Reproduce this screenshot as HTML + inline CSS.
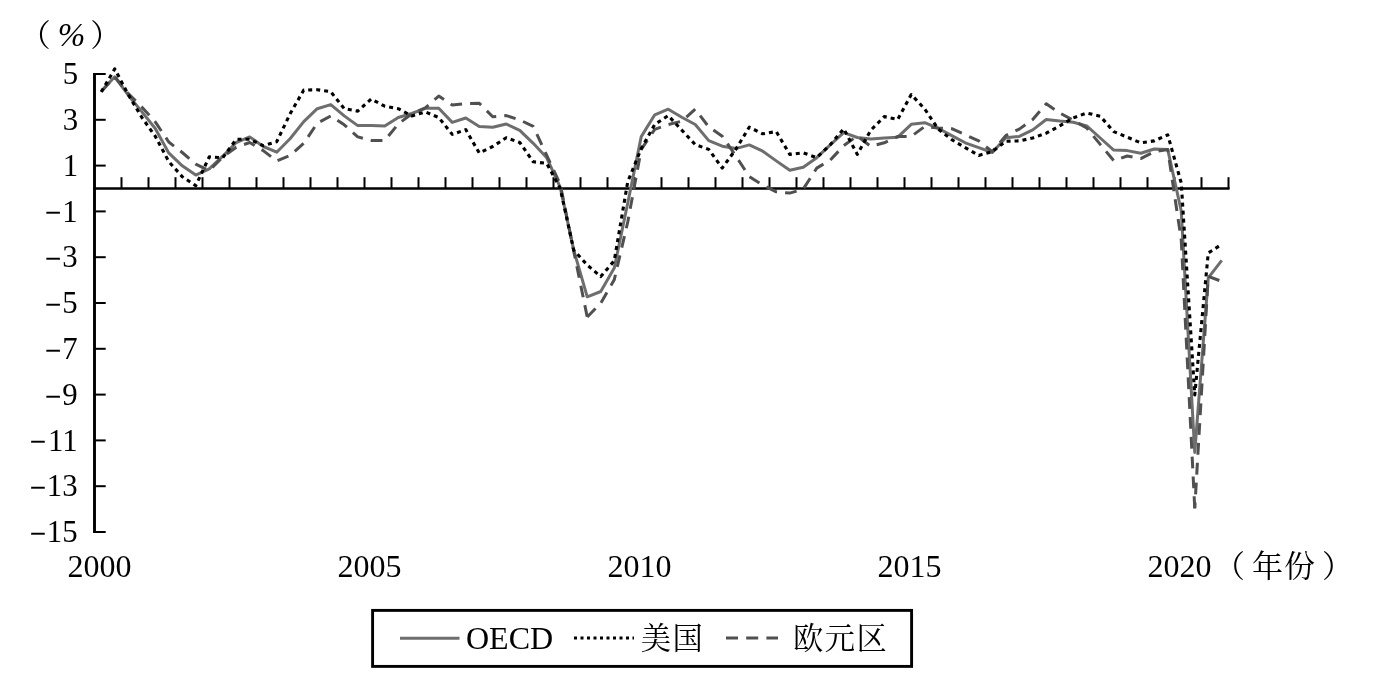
<!DOCTYPE html>
<html lang="zh"><head><meta charset="utf-8"><title>chart</title>
<style>
html,body{margin:0;padding:0;background:#fff;}
body{width:1376px;height:683px;overflow:hidden;}
svg{display:block;}
text{font-family:"Liberation Serif","Noto Serif CJK SC",serif;font-size:32px;fill:#000;}
.cjk{font-family:"Liberation Serif","Noto Serif CJK SC",serif;font-size:31px;}
</style></head><body>
<svg width="1376" height="683" viewBox="0 0 1376 683">
<rect width="1376" height="683" fill="#fff"/>
<g stroke="#000" stroke-width="2" fill="none">
<line x1="94.5" y1="73.0" x2="94.5" y2="533.0" stroke-width="2.9"/>
<line x1="93.1" y1="188.5" x2="1229.6" y2="188.5" stroke-width="2.7"/>
<line x1="121.5" y1="188.5" x2="121.5" y2="177.2"/><line x1="148.5" y1="188.5" x2="148.5" y2="177.2"/><line x1="175.5" y1="188.5" x2="175.5" y2="177.2"/><line x1="202.5" y1="188.5" x2="202.5" y2="177.2"/><line x1="229.5" y1="188.5" x2="229.5" y2="177.2"/><line x1="256.5" y1="188.5" x2="256.5" y2="177.2"/><line x1="283.5" y1="188.5" x2="283.5" y2="177.2"/><line x1="310.5" y1="188.5" x2="310.5" y2="177.2"/><line x1="337.5" y1="188.5" x2="337.5" y2="177.2"/><line x1="364.5" y1="188.5" x2="364.5" y2="177.2"/><line x1="391.5" y1="188.5" x2="391.5" y2="177.2"/><line x1="418.5" y1="188.5" x2="418.5" y2="177.2"/><line x1="445.5" y1="188.5" x2="445.5" y2="177.2"/><line x1="472.5" y1="188.5" x2="472.5" y2="177.2"/><line x1="499.5" y1="188.5" x2="499.5" y2="177.2"/><line x1="526.5" y1="188.5" x2="526.5" y2="177.2"/><line x1="553.5" y1="188.5" x2="553.5" y2="177.2"/><line x1="580.5" y1="188.5" x2="580.5" y2="177.2"/><line x1="607.5" y1="188.5" x2="607.5" y2="177.2"/><line x1="634.5" y1="188.5" x2="634.5" y2="177.2"/><line x1="661.5" y1="188.5" x2="661.5" y2="177.2"/><line x1="688.5" y1="188.5" x2="688.5" y2="177.2"/><line x1="715.5" y1="188.5" x2="715.5" y2="177.2"/><line x1="742.5" y1="188.5" x2="742.5" y2="177.2"/><line x1="769.5" y1="188.5" x2="769.5" y2="177.2"/><line x1="796.5" y1="188.5" x2="796.5" y2="177.2"/><line x1="823.5" y1="188.5" x2="823.5" y2="177.2"/><line x1="850.5" y1="188.5" x2="850.5" y2="177.2"/><line x1="877.5" y1="188.5" x2="877.5" y2="177.2"/><line x1="904.5" y1="188.5" x2="904.5" y2="177.2"/><line x1="931.5" y1="188.5" x2="931.5" y2="177.2"/><line x1="958.5" y1="188.5" x2="958.5" y2="177.2"/><line x1="985.5" y1="188.5" x2="985.5" y2="177.2"/><line x1="1012.5" y1="188.5" x2="1012.5" y2="177.2"/><line x1="1039.5" y1="188.5" x2="1039.5" y2="177.2"/><line x1="1066.5" y1="188.5" x2="1066.5" y2="177.2"/><line x1="1093.5" y1="188.5" x2="1093.5" y2="177.2"/><line x1="1120.5" y1="188.5" x2="1120.5" y2="177.2"/><line x1="1147.5" y1="188.5" x2="1147.5" y2="177.2"/><line x1="1174.5" y1="188.5" x2="1174.5" y2="177.2"/><line x1="1201.5" y1="188.5" x2="1201.5" y2="177.2"/><line x1="1228.5" y1="188.5" x2="1228.5" y2="177.2"/>
<line x1="94.5" y1="74.0" x2="105.7" y2="74.0"/><line x1="94.5" y1="119.8" x2="105.7" y2="119.8"/><line x1="94.5" y1="165.6" x2="105.7" y2="165.6"/><line x1="94.5" y1="211.4" x2="105.7" y2="211.4"/><line x1="94.5" y1="257.2" x2="105.7" y2="257.2"/><line x1="94.5" y1="303.0" x2="105.7" y2="303.0"/><line x1="94.5" y1="348.8" x2="105.7" y2="348.8"/><line x1="94.5" y1="394.6" x2="105.7" y2="394.6"/><line x1="94.5" y1="440.4" x2="105.7" y2="440.4"/><line x1="94.5" y1="486.2" x2="105.7" y2="486.2"/><line x1="94.5" y1="532.0" x2="105.7" y2="532.0"/>
</g>
<g fill="none" stroke-linejoin="round">
<polyline points="101.25,91.2 114.75,76.8 128.25,95.2 141.75,111.6 155.25,128.5 168.75,152.9 182.25,165.8 195.75,175.1 209.25,168.8 222.75,156.2 236.25,142.5 249.75,136.9 263.25,146.5 276.75,152.2 290.25,138.5 303.75,121.6 317.25,108.7 330.75,104.6 344.25,115.9 357.75,125.6 371.25,125.6 384.75,126.1 398.25,117.5 411.75,113.5 425.25,108.3 438.75,108.3 452.25,122.4 465.75,118.0 479.25,126.4 492.75,127.2 506.25,124.0 519.75,130.4 533.25,143.3 546.75,157.8 560.25,187.4 573.75,250.1 587.25,296.8 600.75,291.5 614.25,268.1 627.75,203.0 641.25,136.6 654.75,114.8 668.25,109.2 681.75,117.2 695.25,124.5 708.75,140.6 722.25,146.2 735.75,148.6 749.25,144.9 762.75,151.2 776.25,160.9 789.75,170.2 803.25,167.3 816.75,157.7 830.25,144.8 843.75,132.7 857.25,137.5 870.75,139.1 884.25,138.0 897.75,137.2 911.25,124.3 924.75,122.7 938.25,128.3 951.75,135.6 965.25,142.8 978.75,147.7 992.25,152.5 1005.75,137.7 1019.25,136.4 1032.75,129.9 1046.25,119.5 1059.75,121.1 1073.25,122.2 1086.75,125.9 1100.25,138.0 1113.75,150.1 1127.25,150.6 1140.75,153.3 1154.25,149.0 1167.75,149.6 1181.25,211.0 1194.75,452.4 1208.25,277.9 1221.75,260.4" stroke="#6e6e6e" stroke-width="3"/>
<g stroke="#505050" stroke-width="3" stroke-dasharray="11.8 8.05">
<polyline points="101.25,91.6 114.75,76.8 128.25,93.6 141.75,106.9 155.25,121.9 168.75,142.0 182.25,152.5 195.75,164.2 209.25,170.7 222.75,157.0 236.25,147.3 249.75,142.5 263.25,150.6 276.75,161.0 290.25,155.4 303.75,143.3 317.25,123.2 330.75,115.9 344.25,124.8 357.75,136.9 371.25,140.4 384.75,140.4 398.25,124.0 411.75,113.8 425.25,107.9 438.75,96.1 452.25,105.1 465.75,103.5 479.25,103.3 492.75,116.7 506.25,115.6 519.75,119.9 533.25,126.4 546.75,155.4 560.25,184.2 573.75,251.2 587.25,317.0" stroke-dashoffset="-0.5"/>
<polyline points="587.25,317.0 600.75,303.2 614.25,279.8 627.75,222.0 641.25,149.4 654.75,129.3 668.25,124.5 681.75,121.2 695.25,109.2 708.75,126.9 722.25,136.2 735.75,155.9 749.25,176.5 762.75,185.1 776.25,191.8 789.75,193.1 803.25,189.1 816.75,168.1 830.25,160.1 843.75,145.6 857.25,135.9 870.75,146.4 884.25,142.8 897.75,136.4 911.25,136.4 924.75,126.4 938.25,128.0 951.75,128.7 965.25,134.8 978.75,140.9 992.25,151.7 1005.75,135.6 1019.25,129.1 1032.75,119.5 1046.25,103.8 1059.75,113.0 1073.25,120.3 1086.75,128.0 1100.25,144.4 1113.75,160.6 1127.25,156.0 1140.75,158.6 1154.25,151.7 1167.75,149.6 1181.25,240.0 1194.75,508.5" stroke-dashoffset="0"/>
<polyline points="1194.75,508.5 1208.25,276.4 1221.75,281.4" stroke-dashoffset="5.7"/>
</g>
<polyline points="101.25,92.0 114.75,68.9 128.25,94.6 141.75,117.3 155.25,136.2 168.75,161.5 182.25,176.7 195.75,185.6 209.25,156.9 222.75,157.8 236.25,139.3 249.75,139.3 263.25,145.7 276.75,141.7 290.25,113.5 303.75,90.1 317.25,89.7 330.75,91.7 344.25,108.7 357.75,111.1 371.25,99.0 384.75,106.2 398.25,108.7 411.75,115.9 425.25,111.9 438.75,117.5 452.25,134.4 465.75,129.6 479.25,153.0 492.75,146.5 506.25,137.7 519.75,142.5 533.25,161.8 546.75,163.4 560.25,188.5 573.75,250.1 587.25,265.0 600.75,276.6 614.25,260.7 627.75,181.7 641.25,148.6 654.75,124.5 668.25,115.6 681.75,130.1 695.25,144.6 708.75,149.4 722.25,168.0 735.75,149.4 749.25,127.2 762.75,133.8 776.25,131.6 789.75,154.4 803.25,152.8 816.75,157.7 830.25,144.8 843.75,128.7 857.25,154.4 870.75,130.3 884.25,116.6 897.75,119.5 911.25,94.5 924.75,109.0 938.25,129.1 951.75,139.6 965.25,147.7 978.75,155.4 992.25,151.7 1005.75,141.2 1019.25,140.9 1032.75,138.0 1046.25,133.2 1059.75,125.9 1073.25,117.9 1086.75,113.0 1100.25,116.2 1113.75,131.6 1127.25,137.2 1140.75,142.8 1154.25,140.9 1167.75,134.8 1181.25,183.0 1194.75,395.0 1208.25,253.0 1221.75,244.3" stroke="#000" stroke-width="3.1" stroke-dasharray="4 4"/>
</g>
<g>
<text x="78.2" y="84.1" text-anchor="end" style="font-size:30.8px">5</text><text x="78.2" y="129.9" text-anchor="end" style="font-size:30.8px">3</text><text x="78.2" y="175.7" text-anchor="end" style="font-size:30.8px">1</text><text x="77.6" y="221.5" text-anchor="end" style="font-size:30.8px">1</text><text x="61.4" y="222.4" text-anchor="end" style="font-size:28px" stroke="#000" stroke-width="0.5">−</text><text x="77.6" y="267.3" text-anchor="end" style="font-size:30.8px">3</text><text x="61.4" y="268.2" text-anchor="end" style="font-size:28px" stroke="#000" stroke-width="0.5">−</text><text x="77.6" y="313.1" text-anchor="end" style="font-size:30.8px">5</text><text x="61.4" y="314.0" text-anchor="end" style="font-size:28px" stroke="#000" stroke-width="0.5">−</text><text x="77.6" y="358.9" text-anchor="end" style="font-size:30.8px">7</text><text x="61.4" y="359.8" text-anchor="end" style="font-size:28px" stroke="#000" stroke-width="0.5">−</text><text x="77.6" y="404.7" text-anchor="end" style="font-size:30.8px">9</text><text x="61.4" y="405.6" text-anchor="end" style="font-size:28px" stroke="#000" stroke-width="0.5">−</text><text x="77.6" y="450.5" text-anchor="end" style="font-size:30.8px">11</text><text x="46.0" y="451.4" text-anchor="end" style="font-size:28px" stroke="#000" stroke-width="0.5">−</text><text x="77.6" y="496.3" text-anchor="end" style="font-size:30.8px">13</text><text x="46.0" y="497.2" text-anchor="end" style="font-size:28px" stroke="#000" stroke-width="0.5">−</text><text x="77.6" y="542.1" text-anchor="end" style="font-size:30.8px">15</text><text x="46.0" y="543.0" text-anchor="end" style="font-size:28px" stroke="#000" stroke-width="0.5">−</text>
<text x="99.5" y="577" text-anchor="middle">2000</text><text x="369.5" y="577" text-anchor="middle">2005</text><text x="639.5" y="577" text-anchor="middle">2010</text><text x="909.5" y="577" text-anchor="middle">2015</text><text x="1179.5" y="577" text-anchor="middle">2020</text>
<text x="19.7" y="46" class="cjk">（</text><text x="57.8" y="46.3" font-style="italic" style="font-size:33px">%</text><text x="90.2" y="46" class="cjk">）</text>
<text x="1214" y="577" class="cjk">（</text><text x="1252" y="577" class="cjk">年</text><text x="1284" y="577" class="cjk">份</text><text x="1322" y="577" class="cjk">）</text>
</g>
<rect x="372.6" y="610.4" width="539" height="56" fill="#fff" stroke="#000" stroke-width="2.9"/>
<line x1="400" y1="638.3" x2="459.5" y2="638.3" stroke="#6e6e6e" stroke-width="3"/>
<text x="466" y="649" letter-spacing="0">OECD</text>
<line x1="574" y1="638" x2="634" y2="638" stroke="#000" stroke-width="3" stroke-dasharray="3 3.5"/>
<text x="640.7" y="648.6" class="cjk" style="font-size:30.3px;letter-spacing:1.4px">美国</text>
<line x1="726" y1="638" x2="778" y2="638" stroke="#505050" stroke-width="3" stroke-dasharray="12 8.2"/>
<text x="793" y="648.6" class="cjk" style="font-size:30.3px;letter-spacing:1.5px">欧元区</text>
</svg>
</body></html>
